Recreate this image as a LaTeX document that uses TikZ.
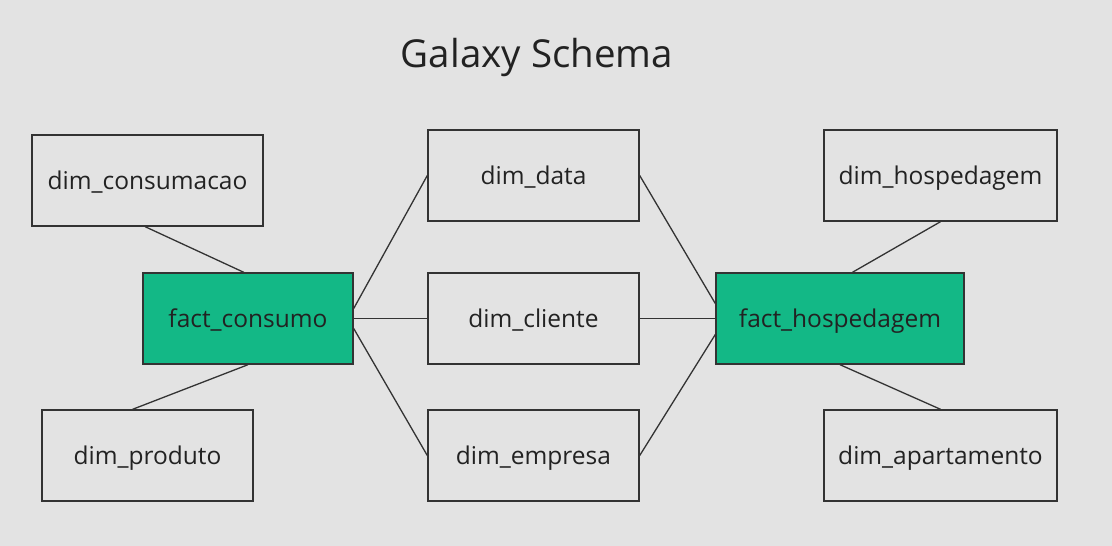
\documentclass[tikz,border=0pt]{standalone}
\usepackage{fontspec}
\setmainfont{Open Sans}
\usetikzlibrary{calc}
\definecolor{bg}{HTML}{E3E3E3}
\definecolor{factgreen}{HTML}{13B886}
\definecolor{edge}{HTML}{333333}
\definecolor{txt}{HTML}{222222}
\tikzset{
  box/.style={draw=edge, line width=1.4pt, inner sep=0pt, text=txt,
    text height=21pt, text depth=4pt,
    font=\fontsize{24.5}{28}\selectfont},
  dimbox/.style={box},
  factbox/.style={box, fill=factgreen},
  conn/.style={draw=edge, line width=1.3pt},
}
\begin{document}
\begin{tikzpicture}[x=1pt,y=-1pt]
\fill[bg] (0,0) rectangle (1112,546);
\useasboundingbox (0,0) rectangle (1112,546);
\node[text=txt, font=\fontsize{38.5}{44}\selectfont] (title) at (537,57) {Galaxy Schema};
% left
\node[dimbox, minimum width=231pt, minimum height=91pt] (dcons) at (147.5,180.5) {dim\_consumacao};
\node[factbox, minimum width=210pt, minimum height=91pt] (fcons) at (248,318.5) {fact\_consumo};
\node[dimbox, minimum width=211pt, minimum height=91pt] (dprod) at (147.5,455.5) {dim\_produto};
% middle
\node[dimbox, minimum width=211pt, minimum height=91pt] (ddata) at (533.5,175.5) {dim\_data};
\node[dimbox, minimum width=211pt, minimum height=91pt] (dcli) at (533.5,318.5) {dim\_cliente};
\node[dimbox, minimum width=211pt, minimum height=91pt] (demp) at (533.5,455.5) {dim\_empresa};
% right
\node[factbox, minimum width=248pt, minimum height=91pt] (fhosp) at (840,318.5) {fact\_hospedagem};
\node[dimbox, minimum width=233pt, minimum height=91pt] (dhosp) at (940.5,175.5) {dim\_hospedagem};
\node[dimbox, minimum width=233pt, minimum height=91pt] (dapt) at (940.5,455.5) {dim\_apartamento};
% connectors
\draw[conn] ($(dcons.south west)!0.49!(dcons.south east)$) -- ($(fcons.north west)!0.48!(fcons.north east)$);
\draw[conn] (fcons.south) -- ($(dprod.north west)!0.43!(dprod.north east)$);
\draw[conn] ($(fcons.east)+(0,-10)$) -- (ddata.west);
\draw[conn] (fcons.east) -- (dcli.west);
\draw[conn] ($(fcons.east)+(0,10)$) -- (demp.west);
\draw[conn] (ddata.east) -- ($(fhosp.west)+(0,-15)$);
\draw[conn] (dcli.east) -- (fhosp.west);
\draw[conn] (demp.east) -- ($(fhosp.west)+(0,16)$);
\draw[conn] (dhosp.south) -- ($(fhosp.north west)!0.55!(fhosp.north east)$);
\draw[conn] (fhosp.south) -- (dapt.north);
\end{tikzpicture}
\end{document}
